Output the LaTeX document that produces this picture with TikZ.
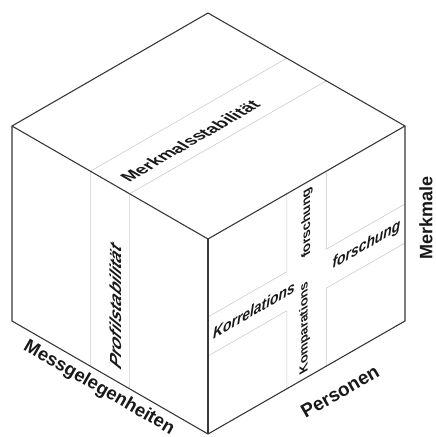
\documentclass[tikz,border=0pt]{standalone}
\usepackage{fontspec}
\setmainfont{Liberation Sans}
\usetikzlibrary{calc}
\tikzset{
  edge/.style={draw=black!78, line width=1.1pt, line join=miter},
  guide/.style={draw=black!20, line width=0.6pt},
  lbl/.style={inner sep=0pt, text=black!90},
  fsz/.style={font=\fontsize{#1}{#1}\selectfont\bfseries},
  fszi/.style={font=\fontsize{#1}{#1}\selectfont\bfseries\itshape},
  isotop/.style={cm={0.866,0.5,-0.866,0.5,(0,0)}},
  isoright/.style={cm={0.866,0.5,0,1,(0,0)}},
  isoleftv/.style={cm={0,1,-0.866,0.5,(0,0)}},
  isorightv/.style={cm={0,1,-0.866,-0.5,(0,0)}},
}
\begin{document}
\begin{tikzpicture}[x=1pt,y=-1pt]
\useasboundingbox (0,0) rectangle (436,437);
\coordinate (T) at (208,13);
\coordinate (L) at (12,126);
\coordinate (R) at (405,126);
\coordinate (F) at (208,239);
\coordinate (LB) at (12,321);
\coordinate (RB) at (405,321);
\coordinate (FB) at (208,434);
% top and left face bands
\coordinate (a1) at ($(L)!0.4!(F)$);
\coordinate (a2) at ($(L)!0.6!(F)$);
\coordinate (b1) at ($(T)!0.4!(R)$);
\coordinate (b2) at ($(T)!0.6!(R)$);
\coordinate (c1) at ($(LB)!0.4!(FB)$);
\coordinate (c2) at ($(LB)!0.6!(FB)$);
\draw[guide] (b1) -- (a1) -- (c1);
\draw[guide] (b2) -- (a2) -- (c2);
% right face cross
\coordinate (t1) at ($(F)!0.4!(R)$);
\coordinate (t2) at ($(F)!0.6!(R)$);
\coordinate (u1) at ($(FB)!0.4!(RB)$);
\coordinate (u2) at ($(FB)!0.6!(RB)$);
\coordinate (f1) at ($(F)!0.4!(FB)$);
\coordinate (f2) at ($(F)!0.6!(FB)$);
\coordinate (r1) at ($(R)!0.4!(RB)$);
\coordinate (r2) at ($(R)!0.6!(RB)$);
\coordinate (m11) at ($(t1)!0.4!(u1)$);
\coordinate (m12) at ($(t1)!0.6!(u1)$);
\coordinate (m21) at ($(t2)!0.4!(u2)$);
\coordinate (m22) at ($(t2)!0.6!(u2)$);
\draw[guide] (t1) -- (m11) -- (f1);
\draw[guide] (t2) -- (m21) -- (r1);
\draw[guide] (f2) -- (m12) -- (u1);
\draw[guide] (r2) -- (m22) -- (u2);
% cube edges
\draw[edge] (T) -- (R) -- (RB) -- (FB) -- (LB) -- (L) -- cycle;
\draw[edge] (L) -- (F) -- (R);
\draw[edge] (F) -- (FB);
% labels
\node[lbl, fsz=17.5, isotop] (ms) at (190,141) {Merkmalsstabilität};
\node[lbl, fszi=18.5, isoleftv] (ps) at (115.5,306) {Profilstabilität};
\node[lbl, fszi=16, isoright] (ko) at (254,310) {Korrelations};
\node[lbl, fszi=16, isoright] (fo) at (366.5,245) {forschung};
\node[lbl, fsz=13.5, isorightv] (kp) at (304.5,328) {Komparations};
\node[lbl, fsz=14, isorightv] (fv) at (307,222.5) {forschung};
\node[lbl, fsz=18, rotate=90] (mm) at (426,218) {Merkmale};
\node[lbl, fsz=18.5, rotate=-30] (mg) at (99,388) {Messgelegenheiten};
\node[lbl, fsz=19, rotate=30] (pe) at (340,391.5) {Personen};
\end{tikzpicture}
\end{document}
